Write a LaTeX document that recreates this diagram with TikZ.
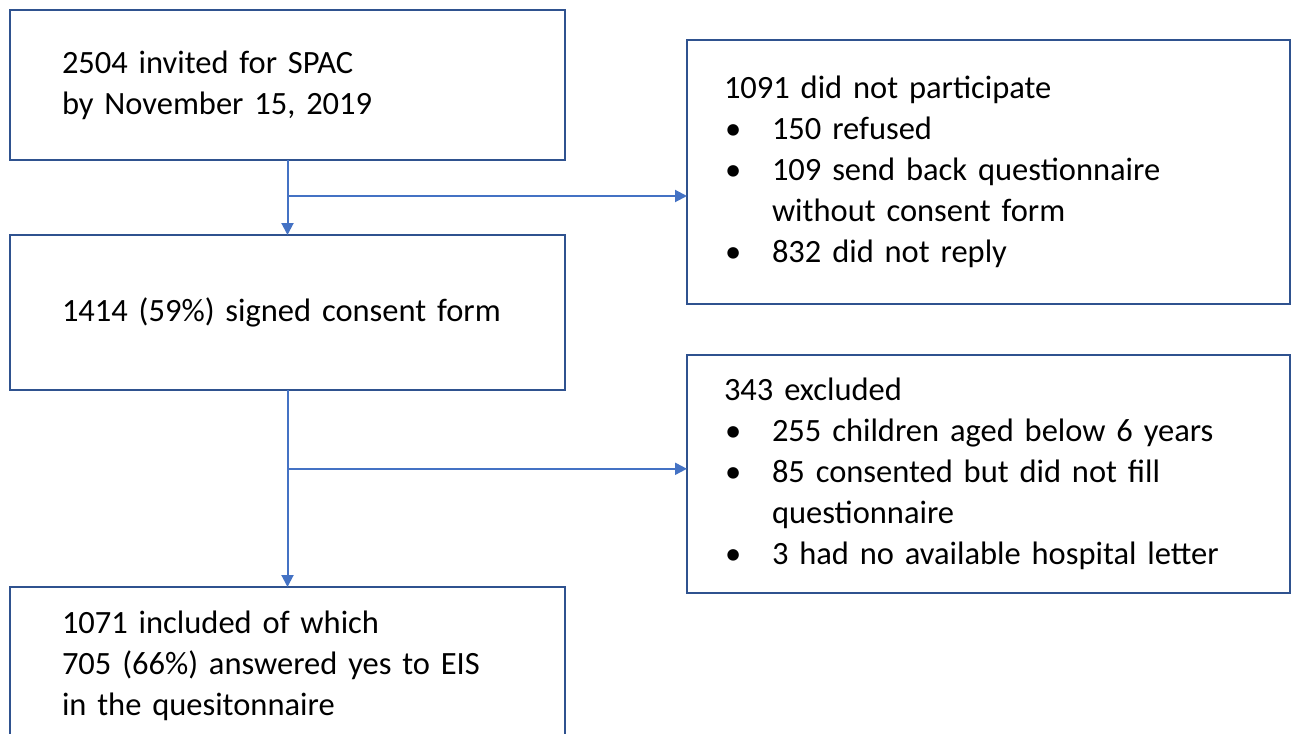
\documentclass[tikz,border=0pt]{standalone}
\usepackage{fontspec}
\setmainfont{Carlito}
\usetikzlibrary{positioning, arrows.meta, calc}

\definecolor{boxblue}{HTML}{2F528F}
\definecolor{arrowblue}{HTML}{4472C4}
\newcommand{\bulitem}{\makebox[48pt][l]{\hspace{1pt}\textbullet}}
\newcommand{\bulcont}{\hspace*{48pt}}

\begin{document}
\begin{tikzpicture}[
    x=1pt, y=-1pt,
    box/.style={draw=boxblue, line width=1.8pt, rectangle, anchor=north west, align=left,
        inner ysep=0pt, outer sep=0pt, font=\fontsize{32.5}{41}\selectfont},
    flowbox/.style={box, minimum width=555pt, text width=451pt, inner xsep=52pt},
    sidebox/.style={box, minimum width=603pt, text width=529pt, inner xsep=37pt},
    arrow/.style={draw=arrowblue, line width=2pt, -{Triangle[length=12pt, width=12pt]}}
]
\clip (0,0) rectangle (1297,733);

\node[flowbox, minimum height=150pt] (invited) at (10,10) {2504 invited for SPAC\\by November\ 15, 2019};
\node[flowbox, minimum height=155pt] (consent) at (10,235) {1414 (59\%) signed consent form};
\node[flowbox, minimum height=158pt] (included) at (10,587) {1071 included of which\\705 (66\%) answered yes to EIS\\in the quesitonnaire};

\node[sidebox, minimum height=264pt] (nopart) at (687,40) {1091 did not participate\\
    \bulitem 150 refused\\
    \bulitem 109 send back questionnaire\\
    \bulcont without consent form\\
    \bulitem 832 did not reply};
\node[sidebox, minimum height=238pt] (excluded) at (687,355) {343 excluded\\
    \bulitem 255 children aged below 6 years\\
    \bulitem 85 consented\ but did not fill\\
    \bulcont questionnaire\\
    \bulitem 3 had no available hospital letter};

\coordinate (split1) at ($(invited.south)!0.48!(consent.north)$);
\coordinate (split2) at ($(consent.south)!0.4!(included.north)$);

\draw[arrow] (invited.south) -- (consent.north);
\draw[arrow] (split1) -- (split1 -| nopart.west);
\draw[arrow] (consent.south) -- (included.north);
\draw[arrow] (split2) -- (split2 -| excluded.west);
\end{tikzpicture}
\end{document}
